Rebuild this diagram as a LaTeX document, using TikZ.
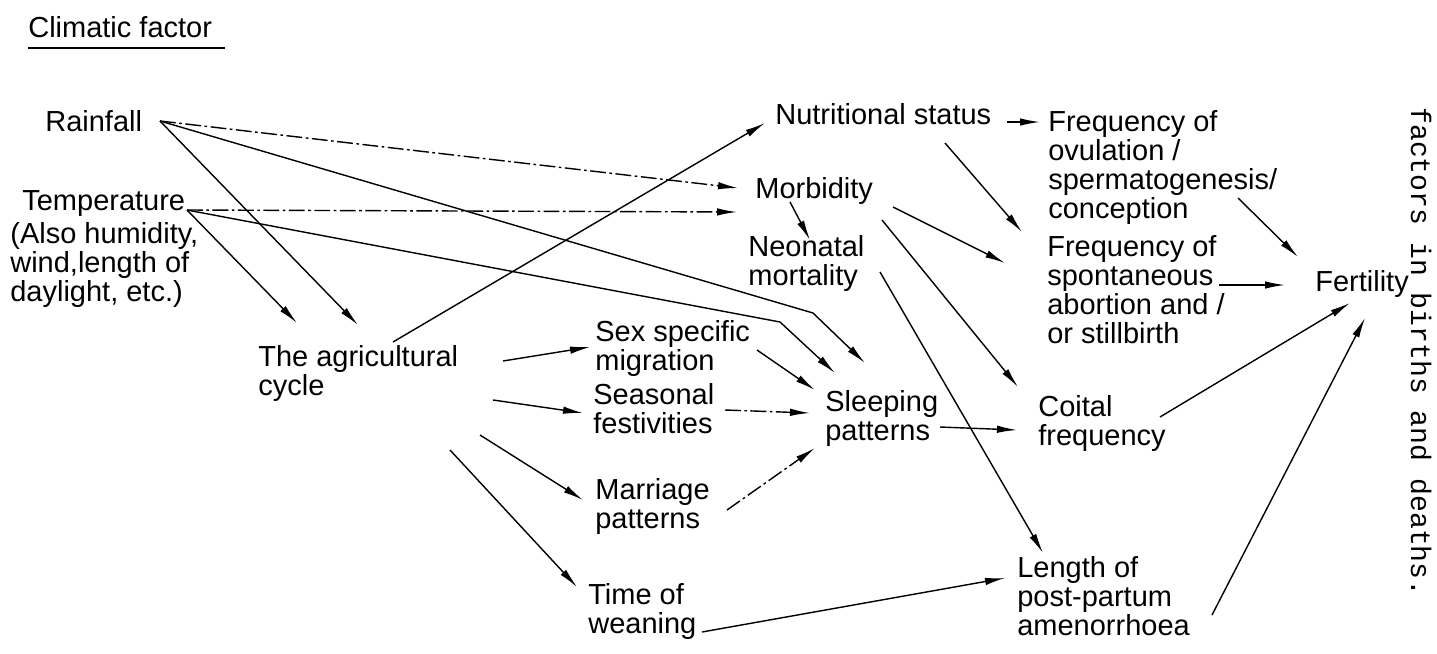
\documentclass[tikz,border=0pt]{standalone}
\usepackage{fontspec}
\setmainfont{Liberation Sans}
\setmonofont{Liberation Mono}
\usepackage{tikz}
\usetikzlibrary{arrows.meta,positioning}
\tikzset{
  factor/.style={anchor=north west,inner sep=0pt,align=left,
    font=\fontsize{16.5}{16.5}\selectfont},
  arrow/.style={-{Latex[length=4mm,width=1.5mm]},line width=0.8pt},
  brokenarrow/.style={arrow,dash pattern=on 9pt off 2pt on 1.5pt off 2pt},
  margintext/.style={rotate=-90,anchor=base west,inner sep=0pt,
    font=\ttfamily\fontsize{16}{16}\selectfont}
}
\begin{document}
\begin{tikzpicture}[x=0.02cm,y=-0.02cm]
  \useasboundingbox (0,0) rectangle (1437,653);
  \node[factor] (clim) at (28,16) {Climatic factor};
  \draw[line width=0.8pt] ([shift={(0,10)}]clim.south west) -- ([shift={(13,10)}]clim.south east);
  \node[factor] (rain) at (45,110) {Rainfall};
  \node[factor] (temp) at (22,190) {Temperature};
  \node[factor] (tempnote) at (10,222) {(Also humidity,\\wind,length of\\daylight, etc.)};
  \node[factor] (agric) at (258,345) {The agricultural\\cycle};
  \node[factor] (nutr) at (775,103) {Nutritional status};
  \node[factor] (morb) at (755,177) {Morbidity};
  \node[factor] (neon) at (748,235) {Neonatal\\mortality};
  \node[factor] (ovul) at (1048,110) {Frequency of\\ovulation /\\spermatogenesis/\\conception};
  \node[factor] (abor) at (1047,235) {Frequency of\\spontaneous\\abortion and /\\or stillbirth};
  \node[factor] (fert) at (1315,270) {Fertility};
  \node[factor] (sexm) at (595,320) {Sex specific\\migration};
  \node[factor] (seas) at (593,383) {Seasonal\\festivities};
  \node[factor] (marr) at (595,478) {Marriage\\patterns};
  \node[factor] (wean) at (588,583) {Time of\\weaning};
  \node[factor] (sleep) at (825,390) {Sleeping\\patterns};
  \node[factor] (coit) at (1038,395) {Coital\\frequency};
  \node[factor] (lpp) at (1017,556) {Length of\\post-partum\\amenorrhoea};
  \node[margintext] (capt) at (1411,107) {factors in births and deaths.};
  \coordinate (rbend) at (813,313);
  \coordinate (tbend) at (780,322);
  \draw[brokenarrow] ([shift={(115,11)}]rain.north west) -- ([shift={(-17,11)}]morb.north west);
  \draw[arrow] ([shift={(115,11)}]rain.north west) -- (rbend) -- ([shift={(40,-27)}]sleep.north west);
  \draw[arrow] ([shift={(115,11)}]rain.north west) -- ([shift={(100,-20)}]agric.north west);
  \draw[brokenarrow] ([shift={(165,20)}]temp.north west) -- ([shift={(-18,35)}]morb.north west);
  \draw[arrow] ([shift={(165,20)}]temp.north west) -- (tbend) -- ([shift={(10,-17)}]sleep.north west);
  \draw[arrow] ([shift={(165,20)}]temp.north west) -- ([shift={(39,-22)}]agric.north west);
  \draw[arrow] ([shift={(135,-3)}]agric.north west) -- ([shift={(-10,20)}]nutr.north west);
  \draw[arrow] ([shift={(245,16)}]agric.north west) -- ([shift={(-5,27)}]sexm.north west);
  \draw[arrow] ([shift={(235,55)}]agric.north west) -- ([shift={(-10,30)}]seas.north west);
  \draw[arrow] ([shift={(222,90)}]agric.north west) -- ([shift={(-12,22)}]marr.north west);
  \draw[arrow] ([shift={(192,105)}]agric.north west) -- ([shift={(-11,4)}]wean.north west);
  \draw[arrow] ([shift={(162,30)}]sexm.north west) -- ([shift={(-10,0)}]sleep.north west);
  \draw[brokenarrow] ([shift={(132,27)}]seas.north west) -- ([shift={(-15,23)}]sleep.north west);
  \draw[brokenarrow] ([shift={(132,32)}]marr.north west) -- ([shift={(-10,58)}]sleep.north west);
  \draw[arrow] ([shift={(115,37)}]sleep.north west) -- ([shift={(-21,35)}]coit.north west);
  \draw[arrow] ([shift={(114,49)}]wean.north west) -- ([shift={(-12,22)}]lpp.north west);
  \draw[brokenarrow] ([shift={(232,19)}]nutr.north west) -- ([shift={(-8,12)}]ovul.north west);
  \draw[arrow] ([shift={(170,40)}]nutr.north west) -- ([shift={(-25,-3)}]abor.north west);
  \draw[arrow] ([shift={(35,25)}]morb.north west) -- ([shift={(62,5)}]neon.north west);
  \draw[arrow] ([shift={(138,30)}]morb.north west) -- ([shift={(-42,28)}]abor.north west);
  \draw[arrow] ([shift={(127,43)}]morb.north west) -- ([shift={(-20,-8)}]coit.north west);
  \draw[arrow] ([shift={(132,37)}]neon.north west) -- ([shift={(26,-3)}]lpp.north west);
  \draw[arrow] ([shift={(190,88)}]ovul.north west) -- ([shift={(-17,-13)}]fert.north west);
  \draw[arrow] ([shift={(172,50)}]abor.north west) -- ([shift={(-30,15)}]fert.north west);
  \draw[arrow] ([shift={(122,22)}]coit.north west) -- ([shift={(35,33)}]fert.north west);
  \draw[arrow] ([shift={(195,59)}]lpp.north west) -- ([shift={(50,48)}]fert.north west);
\end{tikzpicture}
\end{document}
